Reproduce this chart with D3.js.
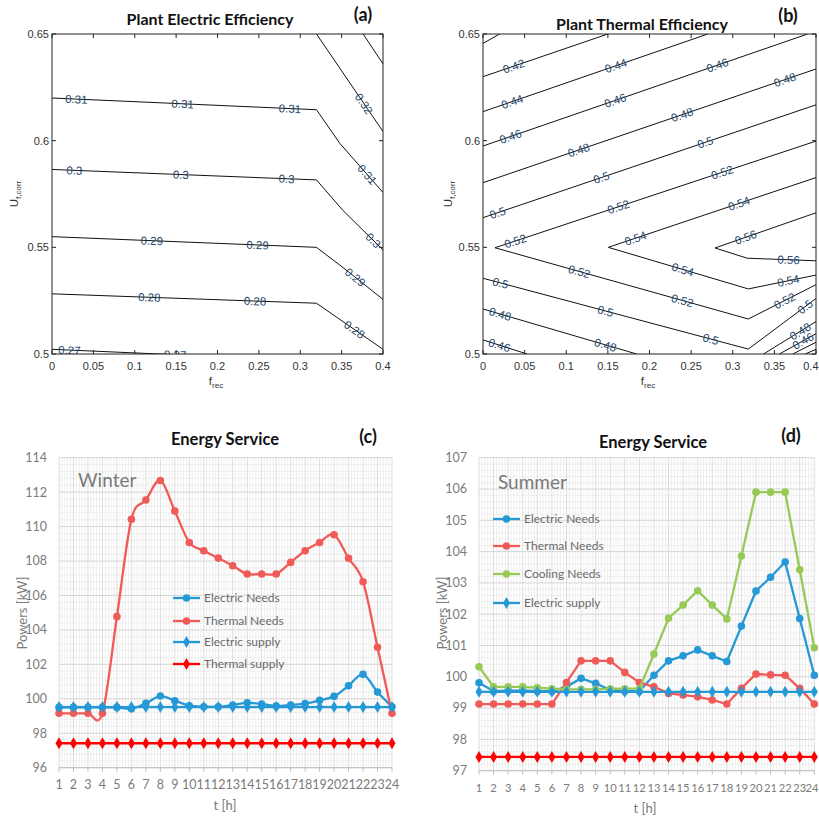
<!DOCTYPE html>
<html><head><meta charset="utf-8">
<script src="https://cdn.jsdelivr.net/npm/d3@7"></script>
<style>body{margin:0;background:#fff}svg{display:block}</style>
</head><body>
<svg id="chart" width="819" height="817"></svg>
<script>
// ---------------- DATA ----------------
const fTicks = [0, 0.05, 0.1, 0.15, 0.2, 0.25, 0.3, 0.35, 0.4];
const uTicks = [0.5, 0.55, 0.6, 0.65];

// Panel (a) contour lines: [f_rec, U_f,corr] points
const elecLines = [
  {level: 0.33, pts: [[0.376, 0.65], [0.4, 0.636]]},
  {level: 0.32, pts: [[0.3196, 0.65], [0.4, 0.6043]]},
  {level: 0.31, pts: [[0, 0.62], [0.3196, 0.6145], [0.3477, 0.5988], [0.4, 0.5757]]},
  {level: 0.30, pts: [[0, 0.5865], [0.3196, 0.5816], [0.3518, 0.5672], [0.4, 0.5488]]},
  {level: 0.29, pts: [[0, 0.555], [0.3196, 0.55], [0.3518, 0.5405], [0.4, 0.5256]]},
  {level: 0.28, pts: [[0, 0.5282], [0.3196, 0.5238], [0.4, 0.5022]]},
  {level: 0.27, pts: [[0, 0.5022], [0.3196, 0.4968]]}
];
// [level, f, U] label anchors
const elecLabels = [
  [0.31, 0.0293, 0.6188], [0.31, 0.158, 0.6177], [0.31, 0.2875, 0.6149], [0.31, 0.3819, 0.5845],
  [0.32, 0.3719, 0.616],
  [0.30, 0.0269, 0.5851], [0.30, 0.1556, 0.5838], [0.30, 0.2834, 0.5809], [0.30, 0.3847, 0.5519],
  [0.29, 0.1206, 0.5531], [0.29, 0.2484, 0.5508], [0.29, 0.3646, 0.535],
  [0.28, 0.1174, 0.5253], [0.28, 0.2452, 0.5237], [0.28, 0.3638, 0.5105],
  [0.27, 0.0209, 0.501], [0.27, 0.1487, 0.499]
];

// Panel (b) contour lines
const thermLines = [
  {level: 0.40, pts: [[0, 0.6456], [0.02, 0.65]]},
  {level: 0.42, pts: [[0, 0.630], [0.15, 0.65]]},
  {level: 0.44, pts: [[0, 0.6136], [0.27, 0.65]]},
  {level: 0.46, pts: [[0, 0.5975], [0.39, 0.65]]},
  {level: 0.48, pts: [[0, 0.5803], [0.4, 0.6336]]},
  {level: 0.50, pts: [[0, 0.5639], [0.4, 0.6168]]},
  {level: 0.52, pts: [[0.4, 0.5998], [0.0144, 0.5498], [0.3187, 0.5164], [0.4, 0.5325]]},
  {level: 0.54, pts: [[0.4, 0.5827], [0.1505, 0.55], [0.3187, 0.5305], [0.4, 0.537]]},
  {level: 0.56, pts: [[0.4, 0.5662], [0.2787, 0.5497], [0.3174, 0.5449], [0.4, 0.5437]]},
  {level: 0.50, pts: [[0, 0.5355], [0.3187, 0.5023], [0.4, 0.526]]},
  {level: 0.48, pts: [[0, 0.5211], [0.1846, 0.5]]},
  {level: 0.48, pts: [[0.337, 0.5], [0.4, 0.5152]]},
  {level: 0.46, pts: [[0, 0.5066], [0.053, 0.5]]},
  {level: 0.46, pts: [[0.356, 0.5], [0.4, 0.5095]]},
  {level: 0.44, pts: [[0.372, 0.5], [0.4, 0.5055]]},
  {level: 0.42, pts: [[0.387, 0.5], [0.4, 0.5022]]}
];
const thermLabels = [
  [0.42, 0.0384, 0.6331], [0.44, 0.1606, 0.6339], [0.46, 0.2827, 0.6342], [0.48, 0.3628, 0.6284],
  [0.44, 0.0364, 0.6167], [0.46, 0.1606, 0.6167], [0.48, 0.2406, 0.6105],
  [0.46, 0.0345, 0.6003], [0.48, 0.1165, 0.5938], [0.50, 0.2687, 0.5972],
  [0.50, 0.1438, 0.5808], [0.52, 0.2887, 0.5834],
  [0.50, 0.0184, 0.5652], [0.52, 0.1646, 0.5667], [0.54, 0.3087, 0.5691],
  [0.52, 0.0404, 0.5511], [0.54, 0.1846, 0.5526], [0.56, 0.3167, 0.5534],
  [0.56, 0.3668, 0.5425], [0.54, 0.2386, 0.5378], [0.54, 0.3668, 0.5342],
  [0.52, 0.1145, 0.537], [0.52, 0.2386, 0.5238], [0.52, 0.3628, 0.5245],
  [0.50, 0.0204, 0.5323], [0.50, 0.1465, 0.5191], [0.50, 0.2727, 0.5058], [0.50, 0.3868, 0.5222],
  [0.48, 0.0204, 0.5183], [0.48, 0.1465, 0.5034], [0.48, 0.3788, 0.512],
  [0.46, 0.0184, 0.5027], [0.46, 0.3848, 0.5058]
];

// Panels (c) and (d)
const hours = ["1","2","3","4","5","6","7","8","9","10","11","12","13","14","15","16","17","18","19","20","21","22","23","24"];
const winterTicks = [96, 98, 100, 102, 104, 106, 108, 110, 112, 114];
const summerTicks = [97, 98, 99, 100, 101, 102, 103, 104, 105, 106, 107];

const winterElectricNeeds = [99.5, 99.5, 99.5, 99.5, 99.5, 99.42, 99.74, 100.16, 99.89, 99.6, 99.54, 99.54, 99.64, 99.77, 99.7, 99.58, 99.64, 99.72, 99.91, 100.14, 100.76, 101.42, 100.39, 99.54];
const winterThermalNeeds = [99.16, 99.16, 99.16, 99.16, 104.77, 110.42, 111.54, 112.68, 110.9, 109.08, 108.6, 108.17, 107.73, 107.25, 107.25, 107.25, 107.92, 108.6, 109.08, 109.53, 108.16, 106.8, 102.99, 99.16];
const winterElectricSupply = [99.52, 99.52, 99.52, 99.52, 99.52, 99.52, 99.52, 99.52, 99.52, 99.52, 99.52, 99.52, 99.52, 99.52, 99.52, 99.52, 99.52, 99.52, 99.52, 99.52, 99.52, 99.52, 99.52, 99.52];
const winterThermalSupply = [97.42, 97.42, 97.42, 97.42, 97.42, 97.42, 97.42, 97.42, 97.42, 97.42, 97.42, 97.42, 97.42, 97.42, 97.42, 97.42, 97.42, 97.42, 97.42, 97.42, 97.42, 97.42, 97.42, 97.42];

const summerElectricNeeds = [99.81, 99.54, 99.56, 99.56, 99.54, 99.54, 99.68, 99.95, 99.79, 99.58, 99.54, 99.54, 100.05, 100.51, 100.67, 100.86, 100.67, 100.49, 101.62, 102.74, 103.18, 103.67, 101.86, 100.05];
const summerThermalNeeds = [99.13, 99.13, 99.13, 99.13, 99.13, 99.13, 99.82, 100.51, 100.51, 100.51, 100.14, 99.82, 99.68, 99.47, 99.42, 99.36, 99.26, 99.13, 99.63, 100.09, 100.06, 100.05, 99.63, 99.13];
const summerCoolingNeeds = [100.32, 99.68, 99.68, 99.68, 99.65, 99.62, 99.6, 99.6, 99.6, 99.62, 99.62, 99.62, 100.73, 101.87, 102.29, 102.75, 102.29, 101.85, 103.86, 105.9, 105.9, 105.9, 103.42, 100.93];
const summerElectricSupply = [99.52, 99.52, 99.52, 99.52, 99.52, 99.52, 99.52, 99.52, 99.52, 99.52, 99.52, 99.52, 99.52, 99.52, 99.52, 99.52, 99.52, 99.52, 99.52, 99.52, 99.52, 99.52, 99.52, 99.52];
const summerThermalSupply = [97.44, 97.44, 97.44, 97.44, 97.44, 97.44, 97.44, 97.44, 97.44, 97.44, 97.44, 97.44, 97.44, 97.44, 97.44, 97.44, 97.44, 97.44, 97.44, 97.44, 97.44, 97.44, 97.44, 97.44];

// ---------------- DRAWING ----------------
const svg = d3.select("#chart");
const W = 819;
const BLUE = "#2598d6", SALMON = "#f05a57", RED = "#ff0000", GREEN = "#97c957";
const LABEL_COL = "#1f4a70";

// keep a centred text inside the page: returns [x, anchor]
function fitRight(cx, halfW) {
  return cx + halfW > W ? [W - 0.5, "end"] : [cx, "middle"];
}

function contourPanel(cfg) {
  const g = svg.append("g");
  const x = d3.scaleLinear().domain([0, 0.4]).range([cfg.x0, cfg.x1]);
  const y = d3.scaleLinear().domain([0.5, 0.65]).range([354, 34]);
  const clipId = "clip" + cfg.id;
  svg.append("clipPath").attr("id", clipId).append("rect")
    .attr("x", cfg.x0).attr("y", 34).attr("width", cfg.x1 - cfg.x0).attr("height", 320);
  const plot = g.append("g").attr("clip-path", `url(#${clipId})`);
  const line = d3.line().x(d => x(d[0])).y(d => y(d[1]));
  plot.selectAll("path.c").data(cfg.lines).join("path")
    .attr("d", d => line(d.pts)).attr("fill", "none").attr("stroke", "#111").attr("stroke-width", 1);

  cfg.labels.forEach(([lv, f, u]) => {
    const px = x(f), py = y(u);
    let best = null;
    cfg.lines.filter(l => Math.abs(l.level - lv) < 1e-6).forEach(l => {
      for (let i = 0; i < l.pts.length - 1; i++) {
        const ax = x(l.pts[i][0]), ay = y(l.pts[i][1]);
        const bx = x(l.pts[i + 1][0]), by = y(l.pts[i + 1][1]);
        const dx = bx - ax, dy = by - ay;
        let t = ((px - ax) * dx + (py - ay) * dy) / (dx * dx + dy * dy);
        t = Math.max(0, Math.min(1, t));
        const qx = ax + t * dx, qy = ay + t * dy;
        const dist = Math.hypot(px - qx, py - qy);
        if (!best || dist < best.dist) best = {dist, qx, qy, ang: Math.atan2(dy, dx) * 180 / Math.PI};
      }
    });
    let ang = best.ang;
    if (ang > 90) ang -= 180;
    if (ang < -90) ang += 180;
    plot.append("text")
      .attr("transform", `translate(${best.qx},${best.qy}) rotate(${ang})`)
      .attr("text-anchor", "middle").attr("dy", "0.36em")
      .attr("font-family", "Liberation Sans, Arial, sans-serif").attr("font-size", 11.5)
      .attr("fill", LABEL_COL)
      .text(d3.format("")(+lv.toFixed(2)));
  });

  g.append("rect").attr("x", cfg.x0).attr("y", 34).attr("width", cfg.x1 - cfg.x0).attr("height", 320)
    .attr("fill", "none").attr("stroke", "#222").attr("stroke-width", 1);
  fTicks.forEach(t => {
    g.append("line").attr("x1", x(t)).attr("x2", x(t)).attr("y1", 354).attr("y2", 350).attr("stroke", "#222");
    g.append("line").attr("x1", x(t)).attr("x2", x(t)).attr("y1", 34).attr("y2", 38).attr("stroke", "#222");
  });
  uTicks.forEach(t => {
    g.append("line").attr("x1", cfg.x0).attr("x2", cfg.x0 + 4).attr("y1", y(t)).attr("y2", y(t)).attr("stroke", "#222");
    g.append("line").attr("x1", cfg.x1).attr("x2", cfg.x1 - 4).attr("y1", y(t)).attr("y2", y(t)).attr("stroke", "#222");
  });
  const font = "Liberation Sans, Arial, sans-serif";
  g.selectAll("text.xt").data(fTicks).join("text")
    .each(function(d) {
      const [xx, anc] = fitRight(x(d), 9);
      d3.select(this).attr("x", xx).attr("text-anchor", anc);
    })
    .attr("y", 370)
    .attr("font-family", font).attr("font-size", 11).attr("fill", "#333")
    .text(d => d3.format("")(d));
  g.selectAll("text.yt").data(uTicks).join("text")
    .attr("x", cfg.x0 - 3).attr("y", d => y(d)).attr("dy", "0.35em").attr("text-anchor", "end")
    .attr("font-family", font).attr("font-size", 11).attr("fill", "#333")
    .text(d => d3.format("")(d));
  const xl = g.append("text").attr("x", cfg.xlabX).attr("y", 385).attr("text-anchor", "middle")
    .attr("font-family", font).attr("font-size", 11.5).attr("fill", "#333");
  xl.append("tspan").text("f");
  xl.append("tspan").attr("dy", 3).attr("font-size", 8).text("rec");
  const yl = g.append("text").attr("transform", `translate(${cfg.ylabX},194) rotate(-90)`).attr("text-anchor", "middle")
    .attr("font-family", font).attr("font-size", 11.5).attr("fill", "#333");
  yl.append("tspan").text("U");
  yl.append("tspan").attr("dy", 3).attr("font-size", 8).text("f,corr");
  g.append("text").attr("x", cfg.titleX).attr("y", cfg.titleY).attr("text-anchor", "middle")
    .attr("font-family", "Lato, sans-serif").attr("font-weight", "bold").attr("font-size", 16).attr("fill", "#111")
    .text(cfg.title);
  g.append("text").attr("x", cfg.tagX).attr("y", cfg.tagY).attr("text-anchor", "middle")
    .attr("font-family", "Lato, sans-serif").attr("font-weight", "bold").attr("font-size", 18).attr("fill", "#111")
    .text(cfg.tag);
}

contourPanel({id: "a", x0: 52, x1: 383, lines: elecLines, labels: elecLabels,
  xlabX: 216, ylabX: 18, title: "Plant Electric Efficiency", titleX: 210, titleY: 25, tag: "(a)", tagX: 363, tagY: 21});
contourPanel({id: "b", x0: 483, x1: 816, lines: thermLines, labels: thermLabels,
  xlabX: 648, ylabX: 452, title: "Plant Thermal Efficiency", titleX: 642, titleY: 30, tag: "(b)", tagX: 788, tagY: 22});

function excelPanel(cfg) {
  const g = svg.append("g");
  const x = d3.scalePoint().domain(hours).range([cfg.x0, cfg.x1]);
  const y = d3.scaleLinear().domain([cfg.ticks[0], cfg.ticks[cfg.ticks.length - 1]]).range([cfg.yb, cfg.yt]);
  const step = x.step();
  const major = cfg.ticks[1] - cfg.ticks[0];
  for (let i = 0; i < hours.length - 1; i++) {
    for (let k = 1; k < 5; k++) {
      const xx = x(hours[i]) + step * k / 5;
      g.append("line").attr("x1", xx).attr("x2", xx).attr("y1", cfg.yt).attr("y2", cfg.yb).attr("stroke", "#efefef");
    }
  }
  for (let i = 0; i < cfg.ticks.length - 1; i++) {
    for (let k = 1; k < 5; k++) {
      const yy = y(cfg.ticks[i] + major * k / 5);
      g.append("line").attr("x1", cfg.x0).attr("x2", cfg.x1).attr("y1", yy).attr("y2", yy).attr("stroke", "#efefef");
    }
  }
  g.selectAll("line.vx").data(hours).join("line")
    .attr("x1", d => x(d)).attr("x2", d => x(d)).attr("y1", cfg.yt).attr("y2", cfg.yb).attr("stroke", "#dcdcdc");
  g.selectAll("line.hy").data(cfg.ticks).join("line")
    .attr("x1", cfg.x0).attr("x2", cfg.x1).attr("y1", d => y(d)).attr("y2", d => y(d)).attr("stroke", "#d6d6d6");
  g.append("line").attr("x1", cfg.x0).attr("x2", cfg.x1).attr("y1", cfg.yb).attr("y2", cfg.yb).attr("stroke", "#bfbfbf");
  g.selectAll("line.tk").data(hours).join("line")
    .attr("x1", d => x(d)).attr("x2", d => x(d)).attr("y1", cfg.yb).attr("y2", cfg.yb + 4).attr("stroke", "#bfbfbf");
  const font = "Lato, 'Open Sans', sans-serif";
  g.selectAll("text.xt").data(hours).join("text")
    .each(function(d) {
      const [xx, anc] = fitRight(x(d), 7);
      d3.select(this).attr("x", xx).attr("text-anchor", anc);
    })
    .attr("y", cfg.xtY)
    .attr("font-family", font).attr("font-size", cfg.xtSize).attr("fill", "#7a7a7a").text(d => d);
  g.selectAll("text.yt").data(cfg.ticks).join("text")
    .attr("x", cfg.ytX).attr("y", d => y(d)).attr("dy", "0.35em").attr("text-anchor", "end")
    .attr("font-family", font).attr("font-size", 12.5).attr("fill", "#7a7a7a").text(d => d);
  g.append("text").attr("x", cfg.tX).attr("y", cfg.tY).attr("text-anchor", "middle")
    .attr("font-family", font).attr("font-size", 13).attr("fill", "#7a7a7a").text("t [h]");
  g.append("text").attr("transform", `translate(${cfg.pX},613) rotate(-90)`).attr("text-anchor", "middle")
    .attr("font-family", font).attr("font-size", 13).attr("fill", "#7a7a7a").text("Powers [kW]");
  g.append("text").attr("x", cfg.seasonX).attr("y", cfg.seasonY)
    .attr("font-family", font).attr("font-size", 19).attr("fill", "#7a7a7a").text(cfg.season);
  g.append("text").attr("x", cfg.titleX).attr("y", cfg.titleY).attr("text-anchor", "middle")
    .attr("font-family", "Lato, sans-serif").attr("font-weight", "bold").attr("font-size", 16.5).attr("fill", "#111")
    .text("Energy Service");
  g.append("text").attr("x", cfg.tagX).attr("y", cfg.tagY).attr("text-anchor", "middle")
    .attr("font-family", "Lato, sans-serif").attr("font-weight", "bold").attr("font-size", 18).attr("fill", "#111")
    .text(cfg.tag);

  const line = d3.line().x((d, i) => x(hours[i])).y(d => y(d)).curve(cfg.curve);
  const diamond = d3.symbol().type(d3.symbolDiamond).size(42);
  cfg.series.forEach(s => {
    g.append("path").attr("d", line(s.values)).attr("fill", "none").attr("stroke", s.color).attr("stroke-width", 2.3);
    if (s.marker === "circle") {
      g.selectAll(null).data(s.values).join("circle")
        .attr("cx", (d, i) => x(hours[i])).attr("cy", d => y(d)).attr("r", 3.8).attr("fill", s.color);
    } else {
      g.selectAll(null).data(s.values).join("path")
        .attr("transform", (d, i) => `translate(${x(hours[i])},${y(d)})`).attr("d", diamond).attr("fill", s.color);
    }
  });
  cfg.series.filter(s => s.legend).forEach((s, i) => {
    const ly = cfg.legY[i];
    g.append("line").attr("x1", cfg.legX).attr("x2", cfg.legX + 27).attr("y1", ly).attr("y2", ly)
      .attr("stroke", s.color).attr("stroke-width", 2.3);
    if (s.marker === "circle") {
      g.append("circle").attr("cx", cfg.legX + 13.5).attr("cy", ly).attr("r", 3.8).attr("fill", s.color);
    } else {
      g.append("path").attr("transform", `translate(${cfg.legX + 13.5},${ly})`).attr("d", diamond).attr("fill", s.color);
    }
    g.append("text").attr("x", cfg.legX + 31).attr("y", ly).attr("dy", "0.35em")
      .attr("font-family", font).attr("font-size", 12).attr("fill", "#6a6a6a").text(s.name);
  });
}

excelPanel({
  x0: 59, x1: 392, yt: 457.7, yb: 767.7, ticks: winterTicks, curve: d3.curveCardinal.tension(0),
  xtY: 789, xtSize: 12.5, ytX: 47, tX: 225, tY: 810, pX: 27, season: "Winter", seasonX: 78, seasonY: 487,
  titleX: 225, titleY: 445, tag: "(c)", tagX: 368, tagY: 443,
  legX: 173, legY: [598, 621, 642, 664],
  series: [
    {name: "Electric Needs", values: winterElectricNeeds, color: BLUE, marker: "circle", legend: true},
    {name: "Thermal Needs", values: winterThermalNeeds, color: SALMON, marker: "circle", legend: true},
    {name: "Electric supply", values: winterElectricSupply, color: BLUE, marker: "diamond", legend: true},
    {name: "Thermal supply", values: winterThermalSupply, color: RED, marker: "diamond", legend: true}
  ]
});

excelPanel({
  x0: 479, x1: 814.3, yt: 457.7, yb: 770.7, ticks: summerTicks, curve: d3.curveLinear,
  xtY: 792, xtSize: 11.2, ytX: 467, tX: 645, tY: 813, pX: 447, season: "Summer", seasonX: 498, seasonY: 489,
  titleX: 653, titleY: 448, tag: "(d)", tagX: 791, tagY: 442,
  legX: 493, legY: [519, 546, 574, 603],
  series: [
    {name: "Electric Needs", values: summerElectricNeeds, color: BLUE, marker: "circle", legend: true},
    {name: "Thermal Needs", values: summerThermalNeeds, color: SALMON, marker: "circle", legend: true},
    {name: "Cooling Needs", values: summerCoolingNeeds, color: GREEN, marker: "circle", legend: true},
    {name: "Electric supply", values: summerElectricSupply, color: BLUE, marker: "diamond", legend: true},
    {name: "Thermal supply", values: summerThermalSupply, color: RED, marker: "diamond", legend: false}
  ]
});
</script>
</body></html>
